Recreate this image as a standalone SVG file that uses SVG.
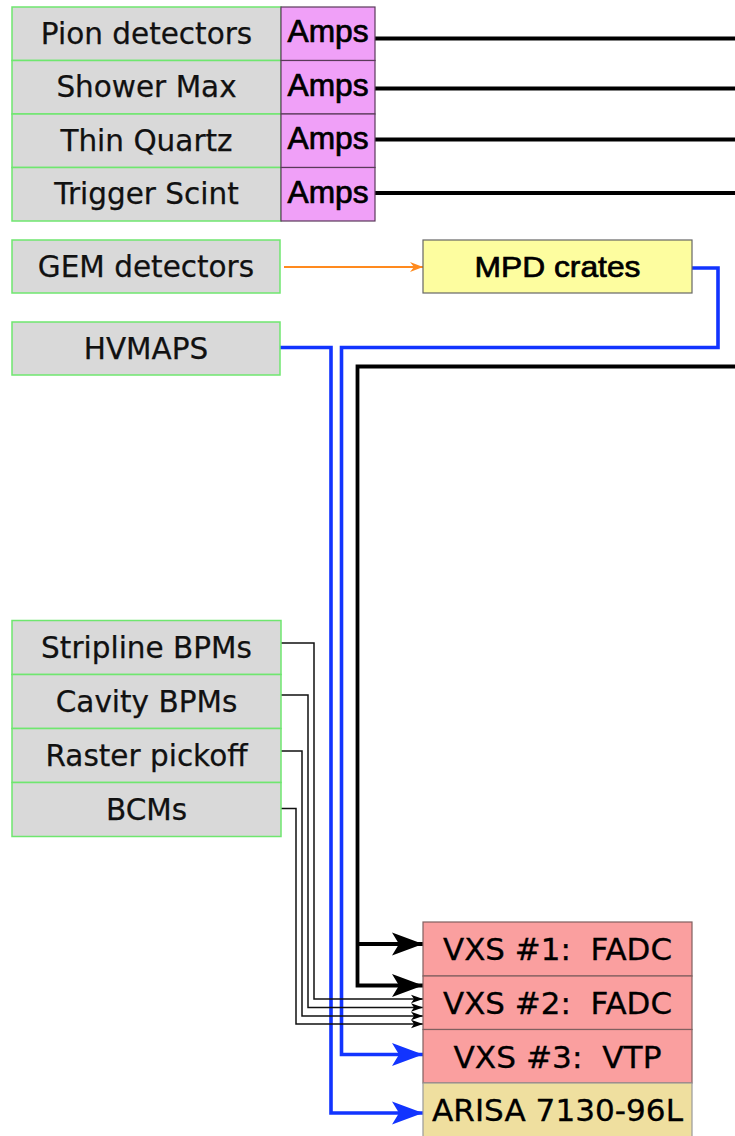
<svg xmlns="http://www.w3.org/2000/svg" width="735" height="1136" viewBox="0 0 735 1136">
<defs>
<style>
.gray{fill:#d9d9d9;stroke:#6fe66f;stroke-width:1.5}
.amps{fill:#f0a0f8;stroke:#5a3a5a;stroke-width:1.2}
.mpd{fill:#fdfd9f;stroke:#666;stroke-width:1.2}
.vxs{fill:#fa9f9f;stroke:#806060;stroke-width:1.2}
.arisa{fill:#efdf9f;stroke:#999;stroke-width:1.2}
.lbl{font-family:"DejaVu Sans",Verdana,sans-serif;font-size:29.5px;fill:#111;text-anchor:middle;stroke:#111;stroke-width:0.25}
.rlbl{font-family:"DejaVu Sans",Verdana,sans-serif;font-size:29.5px;fill:#000;text-anchor:middle;white-space:pre;stroke:#000;stroke-width:0.3}
.arial{font-family:"Liberation Sans",Arial,sans-serif;fill:#000;text-anchor:middle;stroke:#000;stroke-width:0.7}
.thick{fill:none;stroke:#000;stroke-width:3.8}
.blue{fill:none;stroke:#1234ff;stroke-width:3.6}
.thin{fill:none;stroke:#111;stroke-width:1.5}
.orange{fill:none;stroke:#ff8a1e;stroke-width:1.8}
</style>
<marker id="bigK" markerUnits="userSpaceOnUse" markerWidth="34" markerHeight="26" refX="31" refY="13" orient="auto"><path d="M0,1.5 L31,13 L0,24.5 L7,13 z" fill="#000"/></marker>
<marker id="bigB" markerUnits="userSpaceOnUse" markerWidth="34" markerHeight="26" refX="31" refY="13" orient="auto"><path d="M0,1.5 L31,13 L0,24.5 L7,13 z" fill="#1234ff"/></marker>
<marker id="smK" markerUnits="userSpaceOnUse" markerWidth="13" markerHeight="10" refX="12" refY="5" orient="auto"><path d="M0,0.8 L12,5 L0,9.2 L3,5 z" fill="#000"/></marker>
<marker id="smO" markerUnits="userSpaceOnUse" markerWidth="14" markerHeight="12" refX="13" refY="6" orient="auto"><path d="M0,1 L13,6 L0,11 L4,6 z" fill="#ff8a1e"/></marker>
</defs>
<rect width="735" height="1136" fill="#fff"/>

<g id="connectors">
<path class="thick" d="M375,38.5 H735"/>
<path class="thick" d="M375,88.5 H735"/>
<path class="thick" d="M375,139.5 H735"/>
<path class="thick" d="M375,193 H735"/>
<path class="orange" d="M284,267 H423" marker-end="url(#smO)"/>
<path class="blue" d="M692,268 H718 V347.5 H341.5 V1054.5 H423" marker-end="url(#bigB)"/>
<path class="blue" d="M280,347.5 H331 V1113 H423" marker-end="url(#bigB)"/>
<path class="thick" d="M735,366.5 H357.5 V985.5 H423" marker-end="url(#bigK)"/>
<path class="thick" d="M357.5,944 H423" marker-end="url(#bigK)"/>
<path class="thin" d="M281,643 H314 V999 H423" marker-end="url(#smK)"/>
<path class="thin" d="M281,695 H308 V1007.5 H423" marker-end="url(#smK)"/>
<path class="thin" d="M281,751 H302 V1016 H423" marker-end="url(#smK)"/>
<path class="thin" d="M281,808.5 H296 V1024 H423" marker-end="url(#smK)"/>
</g>

<g id="pion"><rect class="gray" x="12" y="7" width="269" height="53.5"/><text class="lbl" x="146.5" y="43.5">Pion detectors</text></g>
<g id="shower"><rect class="gray" x="12" y="60.5" width="269" height="53.5"/><text class="lbl" x="146.5" y="97">Shower Max</text></g>
<g id="quartz"><rect class="gray" x="12" y="114" width="269" height="53.5"/><text class="lbl" x="146.5" y="150.5">Thin Quartz</text></g>
<g id="trigger"><rect class="gray" x="12" y="167.5" width="269" height="53.5"/><text class="lbl" x="146.5" y="204">Trigger Scint</text></g>

<g id="amps1"><rect class="amps" x="281" y="7" width="94" height="53.5"/><text class="arial" x="328" y="42" font-size="31" textLength="81" lengthAdjust="spacingAndGlyphs">Amps</text></g>
<g id="amps2"><rect class="amps" x="281" y="60.5" width="94" height="53.5"/><text class="arial" x="328" y="95.5" font-size="31" textLength="81" lengthAdjust="spacingAndGlyphs">Amps</text></g>
<g id="amps3"><rect class="amps" x="281" y="114" width="94" height="53.5"/><text class="arial" x="328" y="149" font-size="31" textLength="81" lengthAdjust="spacingAndGlyphs">Amps</text></g>
<g id="amps4"><rect class="amps" x="281" y="167.5" width="94" height="53.5"/><text class="arial" x="328" y="202.5" font-size="31" textLength="81" lengthAdjust="spacingAndGlyphs">Amps</text></g>

<g id="gem"><rect class="gray" x="12" y="240" width="268" height="53"/><text class="lbl" x="146" y="277">GEM detectors</text></g>
<g id="mpd"><rect class="mpd" x="423" y="240" width="269" height="53"/><text class="arial" x="557.5" y="277" font-size="30" textLength="166" lengthAdjust="spacingAndGlyphs">MPD crates</text></g>
<g id="hvmaps"><rect class="gray" x="12" y="322" width="268" height="53"/><text class="lbl" x="146" y="359">HVMAPS</text></g>

<g id="stripline"><rect class="gray" x="12" y="620.5" width="269" height="54"/><text class="lbl" x="146.5" y="658">Stripline BPMs</text></g>
<g id="cavity"><rect class="gray" x="12" y="674.5" width="269" height="54"/><text class="lbl" x="146.5" y="712">Cavity BPMs</text></g>
<g id="raster"><rect class="gray" x="12" y="728.5" width="269" height="54"/><text class="lbl" x="146.5" y="766">Raster pickoff</text></g>
<g id="bcms"><rect class="gray" x="12" y="782.5" width="269" height="54"/><text class="lbl" x="146.5" y="820">BCMs</text></g>

<g id="vxs1"><rect class="vxs" x="423" y="922" width="269" height="54"/><text class="rlbl" x="557.5" y="959.5" textLength="229" lengthAdjust="spacingAndGlyphs">VXS #1:  FADC</text></g>
<g id="vxs2"><rect class="vxs" x="423" y="976" width="269" height="53.5"/><text class="rlbl" x="557.5" y="1013.5" textLength="229" lengthAdjust="spacingAndGlyphs">VXS #2:  FADC</text></g>
<g id="vxs3"><rect class="vxs" x="423" y="1029.5" width="269" height="53.5"/><text class="rlbl" x="557.5" y="1067.5" textLength="208" lengthAdjust="spacingAndGlyphs">VXS #3:  VTP</text></g>
<g id="arisa"><rect class="arisa" x="423" y="1083" width="269" height="56"/><text class="rlbl" x="557.5" y="1121" textLength="251" lengthAdjust="spacingAndGlyphs">ARISA 7130-96L</text></g>
</svg>
